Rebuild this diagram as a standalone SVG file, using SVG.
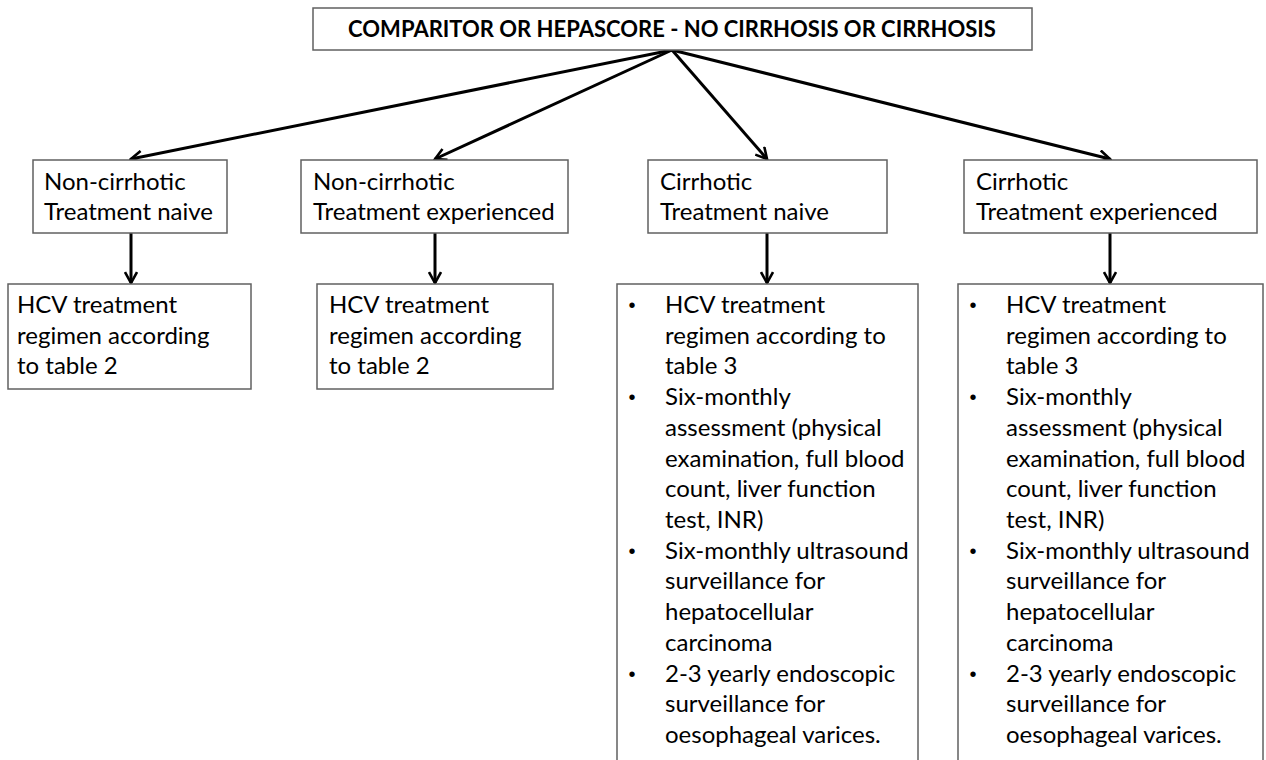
<svg xmlns="http://www.w3.org/2000/svg" width="1266" height="760" viewBox="0 0 1266 760">
  <style>
    .box { fill: #ffffff; stroke: #606060; stroke-width: 1.5; }
    .title { font-family: Lato, "Liberation Sans", sans-serif; font-weight: bold; font-size: 22px; fill: #000000; }
    .lbl { font-family: Lato, "Liberation Sans", sans-serif; font-size: 24px; fill: #000000; }
    .bul { font-family: "Liberation Sans", Arial, sans-serif; font-size: 20px; fill: #000000; text-anchor: middle; }
    .edge { fill: none; stroke: #000000; stroke-width: 3; marker-end: url(#head); }
  </style>
  <defs>
    <marker id="head" viewBox="0 0 14 14" refX="12" refY="7" markerWidth="14" markerHeight="14" markerUnits="userSpaceOnUse" orient="auto">
      <path d="M1,1 L12,7 L1,13" fill="none" stroke="#000000" stroke-width="2.6"/>
    </marker>
  </defs>
  <rect width="1266" height="760" fill="#ffffff"/>

  <!-- connectors -->
  <g id="connectors">
    <line class="edge" x1="672" y1="50" x2="131" y2="159"/>
    <line class="edge" x1="672" y1="50" x2="435" y2="159"/>
    <line class="edge" x1="672" y1="50" x2="767" y2="159"/>
    <line class="edge" x1="672" y1="50" x2="1110" y2="159"/>
    <line class="edge" x1="131" y1="233" x2="131" y2="283"/>
    <line class="edge" x1="435" y1="233" x2="435" y2="283"/>
    <line class="edge" x1="767" y1="233" x2="767" y2="283"/>
    <line class="edge" x1="1110" y1="233" x2="1110" y2="283"/>
  </g>

  <!-- root -->
  <g id="root">
    <rect class="box" x="313" y="8" width="719" height="42"/>
    <text class="title" x="672" y="37" text-anchor="middle">COMPARITOR OR HEPASCORE - NO CIRRHOSIS OR CIRRHOSIS</text>
  </g>

  <!-- second level -->
  <g id="nc-naive">
    <rect class="box" x="33" y="160" width="194" height="73"/>
    <text class="lbl" x="44" y="190">Non-cirrhotic</text>
    <text class="lbl" x="44" y="220">Treatment naive</text>
  </g>
  <g id="nc-experienced">
    <rect class="box" x="301" y="160" width="267" height="73"/>
    <text class="lbl" x="313" y="190">Non-cirrhotic</text>
    <text class="lbl" x="313" y="220">Treatment experienced</text>
  </g>
  <g id="c-naive">
    <rect class="box" x="648" y="160" width="239" height="73"/>
    <text class="lbl" x="660" y="190">Cirrhotic</text>
    <text class="lbl" x="660" y="220">Treatment naive</text>
  </g>
  <g id="c-experienced">
    <rect class="box" x="964" y="160" width="293" height="73"/>
    <text class="lbl" x="976" y="190">Cirrhotic</text>
    <text class="lbl" x="976" y="220">Treatment experienced</text>
  </g>

  <!-- third level -->
  <g id="nc-naive-plan">
    <rect class="box" x="8" y="284" width="243" height="105"/>
    <text class="lbl" x="17" y="313">HCV treatment</text>
    <text class="lbl" x="17" y="344">regimen according</text>
    <text class="lbl" x="17" y="374">to table 2</text>
  </g>
  <g id="nc-experienced-plan">
    <rect class="box" x="317" y="284" width="236" height="105"/>
    <text class="lbl" x="329" y="313">HCV treatment</text>
    <text class="lbl" x="329" y="344">regimen according</text>
    <text class="lbl" x="329" y="374">to table 2</text>
  </g>
  <g id="c-naive-plan">
    <rect class="box" x="617" y="284" width="301" height="490"/>
    <text class="bul" x="632" y="312">•</text>
    <text class="bul" x="632" y="404">•</text>
    <text class="bul" x="632" y="558">•</text>
    <text class="bul" x="632" y="681">•</text>
    <g class="lbl">
      <text x="665" y="313">HCV treatment</text>
      <text x="665" y="344">regimen according to</text>
      <text x="665" y="374">table 3</text>
      <text x="665" y="405">Six-monthly</text>
      <text x="665" y="436">assessment (physical</text>
      <text x="665" y="467">examination, full blood</text>
      <text x="665" y="497">count, liver function</text>
      <text x="665" y="528">test, INR)</text>
      <text x="665" y="559">Six-monthly ultrasound</text>
      <text x="665" y="589">surveillance for</text>
      <text x="665" y="620">hepatocellular</text>
      <text x="665" y="651">carcinoma</text>
      <text x="665" y="682">2-3 yearly endoscopic</text>
      <text x="665" y="712">surveillance for</text>
      <text x="665" y="743">oesophageal varices.</text>
    </g>
  </g>
  <g id="c-experienced-plan">
    <rect class="box" x="958" y="284" width="305" height="490"/>
    <text class="bul" x="973" y="312">•</text>
    <text class="bul" x="973" y="404">•</text>
    <text class="bul" x="973" y="558">•</text>
    <text class="bul" x="973" y="681">•</text>
    <g class="lbl">
      <text x="1006" y="313">HCV treatment</text>
      <text x="1006" y="344">regimen according to</text>
      <text x="1006" y="374">table 3</text>
      <text x="1006" y="405">Six-monthly</text>
      <text x="1006" y="436">assessment (physical</text>
      <text x="1006" y="467">examination, full blood</text>
      <text x="1006" y="497">count, liver function</text>
      <text x="1006" y="528">test, INR)</text>
      <text x="1006" y="559">Six-monthly ultrasound</text>
      <text x="1006" y="589">surveillance for</text>
      <text x="1006" y="620">hepatocellular</text>
      <text x="1006" y="651">carcinoma</text>
      <text x="1006" y="682">2-3 yearly endoscopic</text>
      <text x="1006" y="712">surveillance for</text>
      <text x="1006" y="743">oesophageal varices.</text>
    </g>
  </g>
</svg>
